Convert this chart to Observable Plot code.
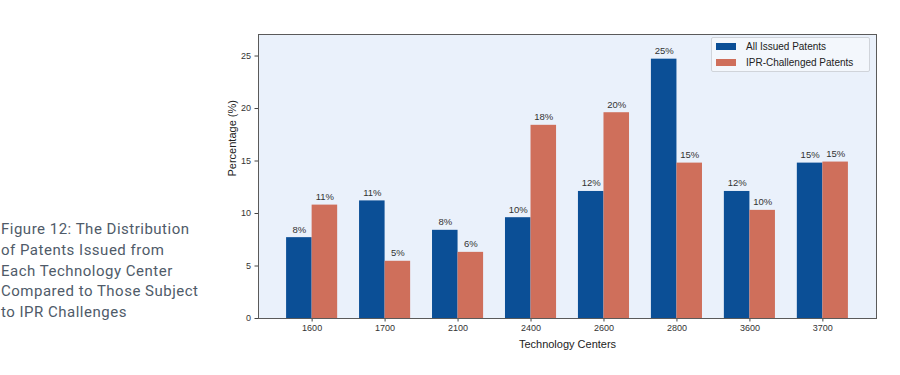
<!DOCTYPE html>
<html>
<head>
<meta charset="utf-8">
<script src="https://cdn.jsdelivr.net/npm/d3@7"></script>
<script src="https://cdn.jsdelivr.net/npm/@observablehq/plot@0.6"></script>
<style>
  html, body { margin: 0; padding: 0; background: #fff; }
  #wrap { position: relative; width: 900px; height: 375px; overflow: hidden; }
  #chart { position: absolute; left: 0; top: 0; }
  #caption {
    position: absolute; left: 1px; top: 219px; width: 220px;
    font-family: "Roboto", "Liberation Sans", sans-serif; font-size: 15px; line-height: 20.8px;
    color: #4f5b69; letter-spacing: 0.5px;
  }
  #legend {
    position: absolute; left: 711px; top: 37px; width: 159px; height: 35px;
    border: 1px solid #d0d4da; border-radius: 2px; background: rgba(245,248,252,0.85);
    font-family: "Liberation Sans", Arial, sans-serif; font-size: 10px; color: #222;
    box-sizing: border-box;
  }
  .item { position: absolute; left: 4px; display: flex; align-items: center; white-space: nowrap; }
  .sw { width: 20px; height: 7px; margin-right: 10px; }
</style>
</head>
<body>
<div id="wrap">
  <div id="chart"></div>
  <div id="caption"></div>
  <div id="legend"></div>
</div>
<script>
// ---- data ----
const centers = ["1600", "1700", "2100", "2400", "2600", "2800", "3600", "3700"];
const seriesNames = ["All Issued Patents", "IPR-Challenged Patents"];
const allIssued = [7.7, 11.2, 8.4, 9.6, 12.1, 24.7, 12.1, 14.8];
const iprChallenged = [10.8, 5.45, 6.3, 18.4, 19.6, 14.8, 10.3, 14.9];
const yTicks = [0, 5, 10, 15, 20, 25];
const captionLines = [
  "Figure 12: The Distribution",
  "of Patents Issued from",
  "Each Technology Center",
  "Compared to Those Subject",
  "to IPR Challenges"
];
const colors = ["#0b4f96", "#cf6f5b"];

// ---- build table ----
const barWidth = 0.35;
const rows = [];
centers.forEach((c, i) => {
  rows.push({i, center: c, series: seriesNames[0], value: allIssued[i], k: 0});
  rows.push({i, center: c, series: seriesNames[1], value: iprChallenged[i], k: 1});
});
const x1 = d => d.i - barWidth + d.k * barWidth;
const x2 = d => x1(d) + barWidth;
const xm = d => x1(d) + barWidth / 2;

const plot = Plot.plot({
  width: 900,
  height: 375,
  marginLeft: 258,
  marginRight: 24,
  marginTop: 34,
  marginBottom: 57,
  style: {fontFamily: "'Liberation Sans', Arial, sans-serif", fontSize: "9px", color: "#333", background: "transparent"},
  x: {domain: [-0.735, centers.length - 1 + 0.735]},
  y: {domain: [0, 27.05]},
  color: {domain: seriesNames, range: colors},
  marks: [
    Plot.frame({fill: "#eaf1fb", stroke: null}),
    Plot.rectY(rows, {x1, x2, y1: 0, y2: "value", fill: "series"}),
    Plot.text(rows, {x: xm, y: "value", text: d => Math.round(d.value) + "%", dy: -5, lineAnchor: "bottom", fontSize: 9.5, fill: "#333"}),
    Plot.axisX({ticks: d3.range(centers.length), tickFormat: i => centers[i], tickSize: 3.5, tickPadding: 3, label: null, stroke: "#444", fill: "#333"}),
    Plot.axisY({ticks: yTicks, tickSize: 3.5, tickPadding: 4, label: null, stroke: "#444", fill: "#333"}),
    Plot.text(["Technology Centers"], {frameAnchor: "bottom", dy: 29, fontSize: 11, fill: "#222"}),
    Plot.text(["Percentage (%)"], {frameAnchor: "left", rotate: -90, dx: -26, fontSize: 11, fill: "#222"}),
    Plot.frame({stroke: "#5a5a5a", strokeWidth: 1})
  ]
});
document.getElementById("chart").appendChild(plot);

document.getElementById("caption").innerHTML = captionLines.join("<br>");

const legend = document.getElementById("legend");
seriesNames.forEach((name, k) => {
  const item = document.createElement("div");
  item.className = "item";
  item.style.top = (3 + k * 15.5) + "px";
  item.innerHTML = `<span class="sw" style="background:${colors[k]}"></span><span>${name}</span>`;
  legend.appendChild(item);
});
</script>
</body>
</html>
